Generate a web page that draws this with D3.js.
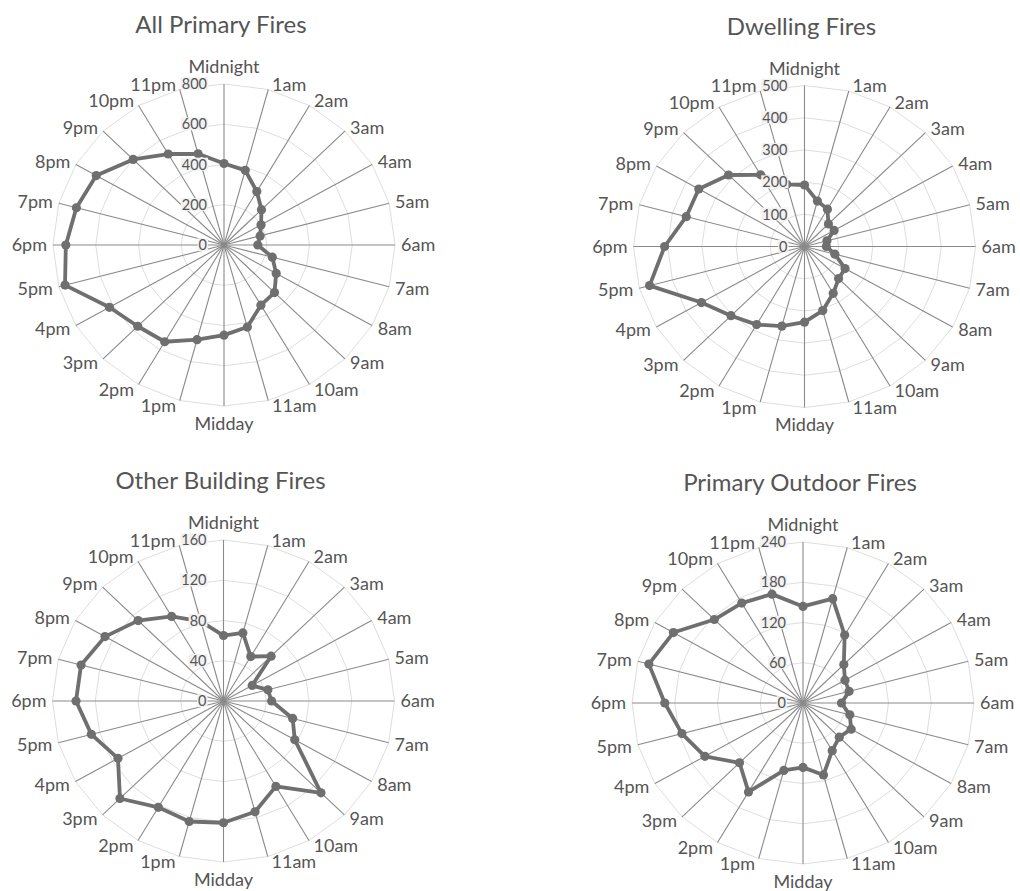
<!DOCTYPE html>
<html>
<head>
<meta charset="utf-8">
<script src="https://cdn.jsdelivr.net/npm/d3@7"></script>
<style>
  html, body { margin: 0; padding: 0; background: #ffffff; }
  svg { display: block; }
  text { font-family: Lato, "Open Sans", sans-serif; }
</style>
</head>
<body>
<svg id="chart" width="1020" height="891"></svg>
<script>
// ---- data ----
const hours = ["Midnight","1am","2am","3am","4am","5am","6am","7am","8am","9am","10am","11am",
               "Midday","1pm","2pm","3pm","4pm","5pm","6pm","7pm","8pm","9pm","10pm","11pm"];

const titles = ["All Primary Fires", "Dwelling Fires", "Other Building Fires", "Primary Outdoor Fires"];

const allPrimaryFires = [405, 384, 307, 248, 200, 175, 158, 234, 282, 334, 345, 422,
                         448, 487, 555, 571, 619, 770, 740, 715, 690, 601, 522, 469];
const dwellingFires   = [191, 146, 134, 99, 100, 68, 64, 92, 137, 141, 168, 206,
                         235, 256, 280, 304, 348, 469, 409, 358, 357, 314, 257, 200];
const otherBuildingFires = [65, 70, 51, 63, 31, 43, 45, 67, 77, 129, 98, 114,
                            121, 124, 122, 137, 114, 128, 138, 138, 128, 113, 97, 82];
const primaryOutdoorFires = [144, 161, 117, 81, 68, 67, 54, 68, 78, 72, 82, 111,
                             96, 104, 153, 126, 159, 176, 194, 224, 210, 176, 172, 168];

const ticksAll      = [0, 200, 400, 600, 800];
const ticksDwelling = [0, 100, 200, 300, 400, 500];
const ticksOther    = [0, 40, 80, 120, 160];
const ticksOutdoor  = [0, 60, 120, 180, 240];

// ---- layout ----
const panels = [
  { title: titles[0], values: allPrimaryFires,     ticks: ticksAll,      cx: 224,   cy: 245 },
  { title: titles[1], values: dwellingFires,       ticks: ticksDwelling, cx: 804.5, cy: 246.5 },
  { title: titles[2], values: otherBuildingFires,  ticks: ticksOther,    cx: 223.5, cy: 701 },
  { title: titles[3], values: primaryOutdoorFires, ticks: ticksOutdoor,  cx: 803,   cy: 703 }
];
const RX = 171, RY = 161;
const textColor = "#555555";
const seriesColor = "#6f6f6f";

const svg = d3.select("#chart");

const angle = d3.scaleLinear().domain([0, hours.length]).range([0, 2 * Math.PI]);

panels.forEach(p => {
  const g = svg.append("g").attr("transform", `translate(${p.cx},${p.cy})`);
  const maxV = p.ticks[p.ticks.length - 1];
  const r = d3.scaleLinear().domain([0, maxV]).range([0, 1]);
  const px = (i, v) => r(v) * RX * Math.sin(angle(i));
  const py = (i, v) => -r(v) * RY * Math.cos(angle(i));

  // gridlines (24-gon)
  const gridLine = d3.line().curve(d3.curveLinearClosed);
  p.ticks.filter(t => t > 0).forEach(t => {
    g.append("path")
      .attr("d", gridLine(hours.map((h, i) => [px(i, t), py(i, t)])))
      .attr("fill", "none")
      .attr("stroke", "#dedede")
      .attr("stroke-width", 1);
  });

  // spokes
  g.selectAll("line.spoke").data(hours).join("line")
    .attr("class", "spoke")
    .attr("x1", 0).attr("y1", 0)
    .attr("x2", (h, i) => px(i, maxV))
    .attr("y2", (h, i) => py(i, maxV))
    .attr("stroke", "#8a8a8a")
    .attr("stroke-width", 1.1);

  // series
  const line = d3.line()
    .x((v, i) => px(i, v))
    .y((v, i) => py(i, v))
    .curve(d3.curveLinearClosed);
  g.append("path")
    .attr("d", line(p.values))
    .attr("fill", "none")
    .attr("stroke", seriesColor)
    .attr("stroke-width", 3.8)
    .attr("stroke-linejoin", "round");
  g.selectAll("circle.pt").data(p.values).join("circle")
    .attr("class", "pt")
    .attr("cx", (v, i) => px(i, v))
    .attr("cy", (v, i) => py(i, v))
    .attr("r", 4.6)
    .attr("fill", seriesColor);

  // tick labels with background
  p.ticks.forEach(t => {
    const tg = g.append("g");
    const txt = tg.append("text")
      .attr("x", -17)
      .attr("y", -r(t) * RY + 5.2)
      .attr("text-anchor", "end")
      .attr("font-size", 14.5)
      .attr("fill", textColor)
      .text(t);
    const bb = txt.node().getBBox();
    tg.insert("rect", "text")
      .attr("x", bb.x - 1).attr("y", bb.y + 2)
      .attr("width", bb.width + 2).attr("height", bb.height - 4)
      .attr("fill", "#f2f2f2");
  });

  // category labels
  hours.forEach((h, i) => {
    const a = angle(i);
    const s = Math.sin(a), c = Math.cos(a);
    const ex = px(i, maxV), ey = py(i, maxV);
    let x, y, anchor;
    const cap = 12.9;
    if (Math.abs(s) < 0.01) {
      anchor = "middle";
      x = ex;
      y = c > 0 ? ey - 11 : ey + 23.5;
    } else {
      anchor = s > 0 ? "start" : "end";
      const gap = 3 + 3 * Math.abs(s);
      x = ex + (s > 0 ? gap : -gap);
      y = ey - 5.5 * c + cap / 2;
    }
    g.append("text")
      .attr("x", x).attr("y", y)
      .attr("text-anchor", anchor)
      .attr("font-size", 18)
      .attr("fill", textColor)
      .text(h);
  });

  // title
  g.append("text")
    .attr("x", -3)
    .attr("y", -212)
    .attr("text-anchor", "middle")
    .attr("font-size", 24)
    .attr("fill", textColor)
    .text(p.title);
});
</script>
</body>
</html>
